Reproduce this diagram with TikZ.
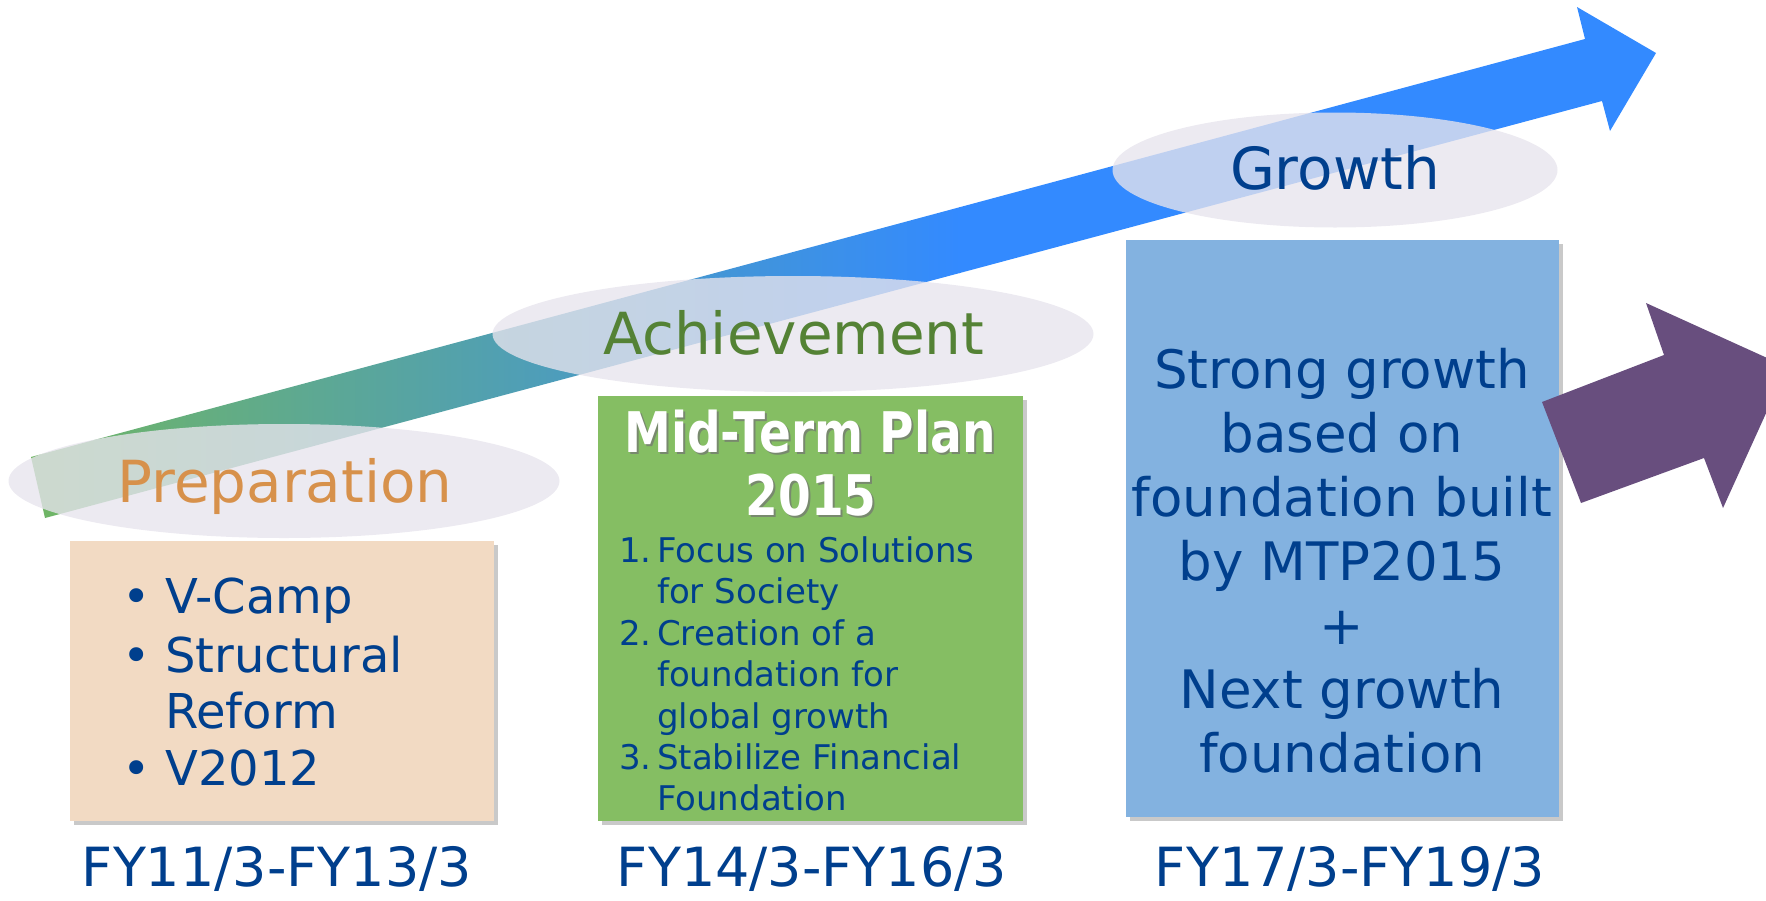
\documentclass[tikz,border=0pt]{standalone}
\usepackage{fontspec}
\usepackage{graphicx}
\setmainfont{DejaVu Sans}
\usetikzlibrary{shapes.geometric,shadows}
\definecolor{txtblue}{RGB}{0,63,141}
\definecolor{arrblue}{RGB}{51,138,255}
\definecolor{arrgreen}{RGB}{112,182,98}
\definecolor{arrteal}{RGB}{88,164,172}
\definecolor{ellcol}{RGB}{231,228,237}
\definecolor{peach}{RGB}{242,218,195}
\definecolor{mtpgreen}{RGB}{133,190,99}
\definecolor{boxblue}{RGB}{131,178,224}
\definecolor{purp}{RGB}{104,78,126}
\definecolor{prepor}{RGB}{215,145,75}
\definecolor{achgreen}{RGB}{84,130,53}
\begin{document}
\begin{tikzpicture}[x=1pt,y=-1pt,
  phase/.style={ellipse, fill=ellcol, fill opacity=0.78, inner sep=0pt},
  phasetxt/.style={anchor=base, inner sep=0pt, font=\fontsize{58}{58}\selectfont},
  card/.style={anchor=north west, inner sep=0pt, draw=none,
    drop shadow={shadow xshift=4pt, shadow yshift=-4pt, opacity=0.3, fill=black!70}},
  bigtxt/.style={anchor=base, inner sep=0pt, text=txtblue, font=\fontsize{53}{64}\selectfont},
  bultxt/.style={anchor=base west, inner sep=0pt, text=txtblue, font=\fontsize{48}{57}\selectfont},
  listtxt/.style={anchor=base west, inner sep=0pt, text=txtblue, font=\fontsize{34}{41}\selectfont},
  fytxt/.style={anchor=base, inner sep=0pt, text=txtblue, font=\fontsize{54}{54}\selectfont},
  titletxt/.style={anchor=base, inner sep=0pt, font=\fontsize{56}{56}\selectfont\bfseries}
]
\useasboundingbox (0,0) rectangle (1766,900);

% main rising arrow
\begin{scope}
  \clip (31,457) -- (1585,39) -- (1577,7) -- (1656,53) -- (1610,131) -- (1602,101) -- (45,518) -- cycle;
  \shade[left color=arrgreen, middle color=arrteal, right color=arrblue] (25,0) rectangle (960,900);
  \fill[arrblue] (959,0) rectangle (1766,900);
\end{scope}

% phase ellipses
\node[phase, minimum width=551, minimum height=114] (prepEll) at (284,481) {};
\node[phase, minimum width=601, minimum height=116] (achEll) at (793,334) {};
\node[phase, minimum width=445, minimum height=115] (growEll) at (1335,170) {};

\node[phasetxt, text=prepor] (prepT) at (285,502) {Preparation};
\node[phasetxt, text=achgreen] (achT) at (794,354) {Achievement};
\node[phasetxt, text=txtblue] (growT) at (1335,189) {Growth};

% boxes
\node[card, fill=peach, minimum width=424, minimum height=280] (prepBox) at (70,541) {};
\node[card, fill=mtpgreen, minimum width=425, minimum height=425] (mtpBox) at (598,396) {};
\node[card, fill=boxblue, minimum width=433, minimum height=577] (growBox) at (1126,240) {};

% purple arrow
\fill[purp] (1542,402) -- (1664,355) -- (1646,303) -- (1787,367) -- (1723,508) -- (1704,458) -- (1581,503) -- cycle;

% preparation box content
\node[bultxt] (pb1) at (122,613) {•};
\node[bultxt] (pt1) at (165,613) {V-Camp};
\node[bultxt] (pb2) at (122,672) {•};
\node[bultxt] (pt2) at (165,672) {Structural};
\node[bultxt] (pt3) at (165,728) {Reform};
\node[bultxt] (pb3) at (122,785) {•};
\node[bultxt] (pt4) at (165,785) {V2012};

% mid-term plan box content
\node[titletxt, text=black!55, opacity=0.7] (mtpS1) at (812,454) {\scalebox{0.84}[1]{Mid-Term Plan}};
\node[titletxt, text=white] (mtp1) at (810,452) {\scalebox{0.84}[1]{Mid-Term Plan}};
\node[titletxt, text=black!55, opacity=0.7] (mtpS2) at (813,517) {\scalebox{0.84}[1]{2015}};
\node[titletxt, text=white] (mtp2) at (811,515) {\scalebox{0.84}[1]{2015}};

\node[listtxt] (n1) at (619,562) {1.};
\node[listtxt] (l1) at (657,562) {Focus on Solutions};
\node[listtxt] (l2) at (657,603) {for Society};
\node[listtxt] (n2) at (619,645) {2.};
\node[listtxt] (l3) at (657,645) {Creation of a};
\node[listtxt] (l4) at (657,686) {foundation for};
\node[listtxt] (l5) at (657,728) {global growth};
\node[listtxt] (n3) at (619,769) {3.};
\node[listtxt] (l6) at (657,769) {Stabilize Financial};
\node[listtxt] (l7) at (657,810) {Foundation};

% growth box content
\node[bigtxt] (g1) at (1342,388) {Strong growth};
\node[bigtxt] (g2) at (1342,452) {based on};
\node[bigtxt] (g3) at (1342,516) {foundation built};
\node[bigtxt] (g4) at (1342,580) {by MTP2015};
\node[bigtxt] (g5) at (1342,644) {+};
\node[bigtxt] (g6) at (1342,708) {Next growth};
\node[bigtxt] (g7) at (1342,772) {foundation};

% period labels
\node[fytxt] (fy1) at (277,886) {FY11/3-FY13/3};
\node[fytxt] (fy2) at (812,886) {FY14/3-FY16/3};
\node[fytxt] (fy3) at (1350,886) {FY17/3-FY19/3};
\end{tikzpicture}
\end{document}
